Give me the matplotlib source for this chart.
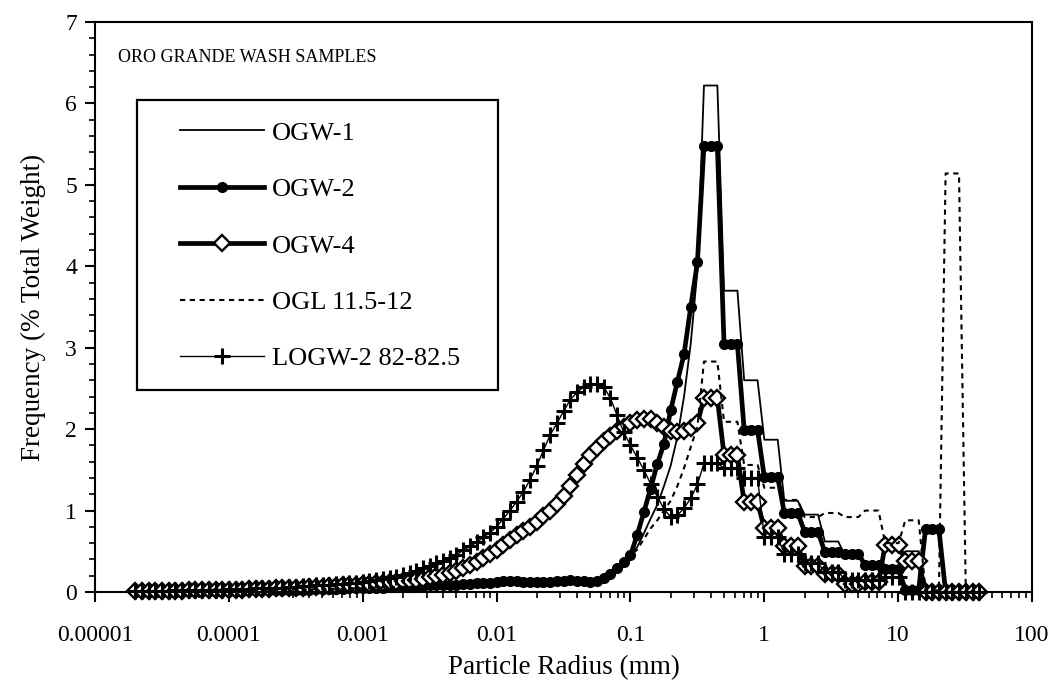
import numpy as np
import matplotlib
matplotlib.use("Agg")
import matplotlib.pyplot as plt
from matplotlib.ticker import FixedLocator, FixedFormatter, LogLocator, MultipleLocator, NullFormatter
from matplotlib.patches import Rectangle

plt.rcParams['font.family'] = ['Liberation Serif', 'DejaVu Serif']

# fine fraction (laser) channels, log10 of radius in mm, 0.05 decade apart
laser_log_r = np.round(np.arange(-4.70, -0.475, 0.05), 2)

# coarse fraction (sieve) bins, lower edge of each bin in mm
sieve_lower_mm = [0.354, 0.5, 0.707, 1.0, 1.41, 2.0, 2.83, 4.0, 5.66, 8.0, 11.3, 16.0, 22.6, 32.0]
sieve_pts_log = [0.0, 0.05, 0.10]   # three channels inside each sieve bin

# shared low curve of OGW-1 / OGW-2 / OGL up to r = 0.1 mm
low_base = [0.0, 0.0, 0.0, 0.005, 0.005, 0.005, 0.005, 0.01, 0.01, 0.01,
            0.01, 0.01, 0.01, 0.015, 0.015, 0.015, 0.015, 0.02, 0.02, 0.02,
            0.02, 0.025, 0.025, 0.025, 0.03, 0.03, 0.03, 0.035, 0.035, 0.04,
            0.04, 0.04, 0.045, 0.045, 0.05, 0.05, 0.055, 0.055, 0.06, 0.06,
            0.065, 0.065, 0.07, 0.075, 0.08, 0.08, 0.085, 0.09, 0.09, 0.095,
            0.10, 0.105, 0.11, 0.115, 0.12, 0.13, 0.135, 0.13, 0.125, 0.12,
            0.12, 0.12, 0.125, 0.13, 0.14, 0.15, 0.14, 0.13, 0.125, 0.14,
            0.17, 0.22, 0.29, 0.37, 0.45]

ogw1_tail = [0.55, 0.72, 0.90, 1.07, 1.30, 1.55, 1.90, 2.40, 3.05, 3.95]
ogw2_tail = [0.70, 0.98, 1.27, 1.57, 1.82, 2.23, 2.58, 2.92, 3.50, 4.05]
ogl_tail = [0.52, 0.65, 0.78, 0.88, 1.00, 1.12, 1.30, 1.52, 1.78, 2.03]

ogw4_laser = [0.01, 0.01, 0.01, 0.01, 0.01, 0.015, 0.015, 0.015, 0.02, 0.02,
              0.02, 0.025, 0.025, 0.025, 0.03, 0.03, 0.03, 0.035, 0.035, 0.04,
              0.04, 0.045, 0.045, 0.05, 0.05, 0.055, 0.06, 0.06, 0.065, 0.07,
              0.075, 0.08, 0.085, 0.09, 0.095, 0.10, 0.105, 0.11, 0.12, 0.125,
              0.13, 0.14, 0.15, 0.165, 0.18, 0.195, 0.21, 0.23, 0.26, 0.29,
              0.33, 0.37, 0.42, 0.47, 0.52, 0.58, 0.64, 0.70, 0.75, 0.80,
              0.86, 0.93, 1.00, 1.08, 1.18, 1.30, 1.44, 1.57, 1.68, 1.77,
              1.85, 1.92, 1.98, 2.03, 2.08, 2.11, 2.13, 2.12, 2.08, 2.03,
              1.98, 1.96, 1.98, 2.02, 2.07]

logw2_laser = [0.01, 0.01, 0.01, 0.01, 0.015, 0.015, 0.02, 0.02, 0.02, 0.025,
               0.025, 0.03, 0.03, 0.03, 0.035, 0.035, 0.04, 0.04, 0.045, 0.045,
               0.05, 0.05, 0.055, 0.06, 0.065, 0.07, 0.075, 0.08, 0.085, 0.09,
               0.095, 0.10, 0.11, 0.115, 0.12, 0.135, 0.145, 0.16, 0.17, 0.19,
               0.21, 0.23, 0.26, 0.29, 0.32, 0.35, 0.38, 0.42, 0.46, 0.51,
               0.56, 0.61, 0.67, 0.73, 0.80, 0.90, 1.00, 1.11, 1.23, 1.38,
               1.55, 1.74, 1.93, 2.07, 2.22, 2.36, 2.45, 2.52, 2.55, 2.56,
               2.52, 2.38, 2.17, 1.96, 1.80, 1.65, 1.50, 1.33, 1.17, 1.02,
               0.92, 0.94, 1.03, 1.15, 1.32]

# sieve bin frequencies (% total weight)
ogw1_sieve = [6.22, 3.70, 2.60, 1.87, 1.12, 0.95, 0.62, 0.45, 0.30, 0.30, 0.50, 0.0, 0.0, 0.0]
ogw2_sieve = [5.48, 3.04, 1.99, 1.41, 0.97, 0.74, 0.49, 0.47, 0.33, 0.28, 0.03, 0.77, 0.0, 0.0]
ogw4_sieve = [2.38, 1.68, 1.10, 0.78, 0.57, 0.32, 0.22, 0.10, 0.12, 0.58, 0.38, 0.0, 0.0, 0.0]
ogl_sieve = [2.83, 2.09, 1.56, 1.28, 1.13, 0.92, 0.97, 0.92, 1.00, 0.60, 0.88, 0.02, 5.14, 0.0]
logw2_sieve = [1.58, 1.52, 1.40, 0.67, 0.47, 0.35, 0.25, 0.15, 0.15, 0.18, 0.0, 0.0, 0.0, 0.0]

names = ['OGW-1', 'OGW-2', 'OGW-4', 'OGL 11.5-12', 'LOGW-2 82-82.5']
xtick_vals = [1e-5, 1e-4, 1e-3, 1e-2, 1e-1, 1, 10, 100]
xtick_labels = ['0.00001', '0.0001', '0.001', '0.01', '0.1', '1', '10', '100']


def full_series(laser_vals, sieve_vals):
    x_laser = 10.0 ** laser_log_r
    x_sieve = np.concatenate([e * 10.0 ** np.array(sieve_pts_log) for e in sieve_lower_mm])
    y = np.concatenate([laser_vals, np.repeat(sieve_vals, len(sieve_pts_log))])
    return np.concatenate([x_laser, x_sieve]), y


series = [
    full_series(low_base + ogw1_tail, ogw1_sieve),
    full_series(low_base + ogw2_tail, ogw2_sieve),
    full_series(ogw4_laser, ogw4_sieve),
    full_series(low_base + ogl_tail, ogl_sieve),
    full_series(logw2_laser, logw2_sieve),
]

styles = [
    dict(color='black', lw=1.3),
    dict(color='black', lw=3.4, marker='o', ms=7),
    dict(color='black', lw=3.4, marker='D', ms=8, mfc='white', mew=1.7),
    dict(color='black', lw=1.5, ls=(0, (2.5, 2.2))),
    dict(color='black', lw=1.0, marker='+', ms=11, mew=2.2),
]

fig = plt.figure(figsize=(10.63, 6.94), dpi=100)
ax = fig.add_axes([0.0894, 0.147, 0.8815, 0.8213])

for (x, y), name, st in zip(series, names, styles):
    ax.plot(x, y, label=name, clip_on=False, **st)

ax.set_xscale('log')
ax.set_xlim(1e-5, 100)
ax.set_ylim(0, 7)

ax.xaxis.set_major_locator(FixedLocator(xtick_vals))
ax.xaxis.set_major_formatter(FixedFormatter(xtick_labels))
ax.xaxis.set_minor_locator(LogLocator(base=10, subs=np.arange(2, 10), numticks=20))
ax.xaxis.set_minor_formatter(NullFormatter())
ax.yaxis.set_major_locator(MultipleLocator(1))
ax.yaxis.set_minor_locator(MultipleLocator(0.2))

ax.tick_params(which='major', direction='out', length=7, width=1.5, labelsize=17)
ax.tick_params(axis='x', which='major', pad=17)
ax.tick_params(axis='y', which='major', pad=6)
ax.tick_params(which='minor', direction='out', length=4, width=1.2)
for sp in ax.spines.values():
    sp.set_linewidth(1.5)

ax.set_xlabel('Particle Radius (mm)', fontsize=19.5, labelpad=6)
ax.set_ylabel('Frequency (% Total Weight)', fontsize=19.5, labelpad=14)

ax.text(0.0245, 0.937, 'ORO GRANDE WASH SAMPLES', transform=ax.transAxes,
        fontsize=13, va='center', ha='left')

ax.add_patch(Rectangle((0.0448, 0.3544), 0.3853, 0.5088, transform=ax.transAxes,
                       fill=False, lw=1.6, ec='black', zorder=5))
ax.legend(loc='upper left', bbox_to_anchor=(0.0907, 0.826), frameon=False,
          fontsize=19, handlelength=3.2, handletextpad=0.28, labelspacing=1.25,
          borderpad=0, borderaxespad=0, numpoints=1)

fig.savefig('out.png', dpi=100)
